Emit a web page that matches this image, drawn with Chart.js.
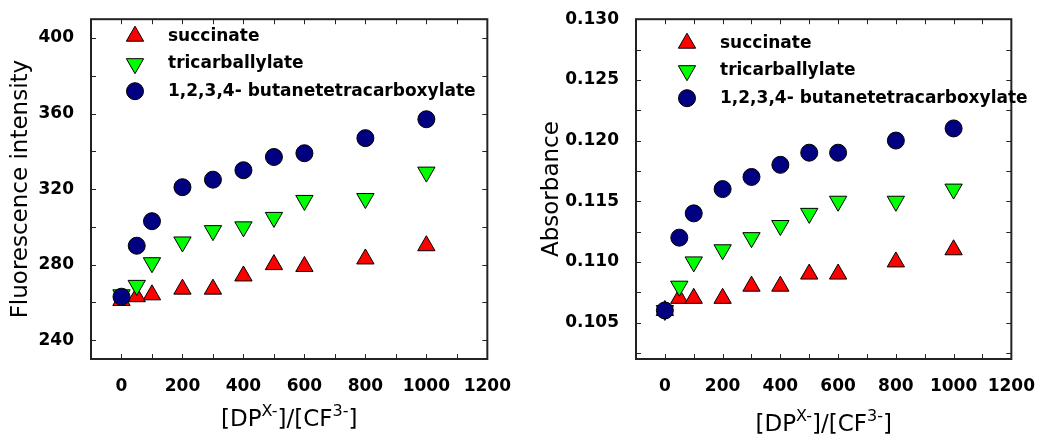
<!DOCTYPE html>
<html>
<head>
<meta charset="utf-8">
<script src="https://cdn.jsdelivr.net/npm/chart.js@4.4.0/dist/chart.umd.min.js"></script>
<style>
  html, body { margin: 0; padding: 0; background: #fff; }
  #wrap { position: relative; width: 1044px; height: 440px; }
  .panel { position: absolute; top: 0; height: 440px; }
</style>
</head>
<body>
<div id="wrap">
  <div class="panel" style="left:0;width:520px"><canvas id="chartFluo" width="520" height="440"></canvas></div>
  <div class="panel" style="left:520px;width:524px"><canvas id="chartAbs" width="524" height="440"></canvas></div>
</div>
<script>
// datos
const ratios = [0, 50, 100, 200, 300, 400, 500, 600, 800, 1000];
const seriesNames = ['succinate', 'tricarballylate', '1,2,3,4- butanetetracarboxylate'];

const fluoSuccinate = [261, 263, 264, 267, 267, 274, 280, 279, 283, 290];
const fluoTricarb   = [264, 269, 281, 292, 298, 300, 305, 314, 315, 329];
const fluoButane    = [263, 290, 303, 321, 325, 330, 337, 339, 347, 357];

const absSuccinate = [0.106, 0.107, 0.107, 0.107, 0.108, 0.108, 0.109, 0.109, 0.110, 0.111];
const absTricarb   = [0.106, 0.108, 0.110, 0.111, 0.112, 0.113, 0.114, 0.115, 0.115, 0.116];
const absButane    = [0.106, 0.112, 0.114, 0.116, 0.117, 0.118, 0.119, 0.119, 0.120, 0.121];

const xTicks    = [0, 200, 400, 600, 800, 1000, 1200];
const fluoTicks = [240, 280, 320, 360, 400];
const absTicks  = [0.105, 0.110, 0.115, 0.120, 0.125, 0.130];

const colores  = ['#ff0000', '#00ff00', '#000080'];
const estilos  = ['triangle', 'triangle', 'circle'];
const rotacion = [0, 180, 0];
const radios   = [10, 10, 8.5];

const TICK_FONT = { family: 'DejaVu Sans', weight: 'bold', size: 17 };

// marco con marcas hacia dentro, leyenda y titulo X con superindices
const marcoPlugin = {
    id: 'marco',
    afterDraw(chart, args, opts) {
        const ctx = chart.ctx;
        const a = chart.chartArea;
        const xs = chart.scales.x, ys = chart.scales.y;
        ctx.save();
        ctx.strokeStyle = '#222';
        ctx.lineWidth = 2;
        ctx.strokeRect(a.left, a.top, a.right - a.left, a.bottom - a.top);

        ctx.lineWidth = 1;
        const L = 5;
        for (let v = xs.min; v <= xs.max + 1e-9; v += opts.xStep) {
            const px = Math.round(xs.getPixelForValue(v)) + 0.5;
            ctx.beginPath();
            ctx.moveTo(px, a.bottom); ctx.lineTo(px, a.bottom - L);
            ctx.moveTo(px, a.top); ctx.lineTo(px, a.top + L);
            ctx.stroke();
        }
        for (let k = 0; ; k++) {
            const v = opts.yStart + k * opts.yStep;
            if (v > ys.max + 1e-9) break;
            const py = Math.round(ys.getPixelForValue(v)) + 0.5;
            ctx.beginPath();
            ctx.moveTo(a.left, py); ctx.lineTo(a.left + L, py);
            ctx.moveTo(a.right, py); ctx.lineTo(a.right - L, py);
            ctx.stroke();
        }

        // leyenda
        ctx.font = 'bold 17px "DejaVu Sans"';
        ctx.textBaseline = 'middle';
        chart.data.datasets.forEach((ds, i) => {
            const mx = a.left + opts.legX;
            const my = a.top + opts.legY + i * opts.legGap;
            ctx.fillStyle = ds.backgroundColor;
            ctx.strokeStyle = '#000';
            ctx.lineWidth = 1;
            dibujarMarca(ctx, ds.pointStyle, ds.pointRotation, ds.pointRadius, mx, my);
            ctx.fillStyle = '#000';
            ctx.textAlign = 'left';
            ctx.fillText(ds.label, mx + 33, my);
        });

        // titulo eje X
        const partes = [['[DP', false], ['X-', true], [']/[CF', false], ['3-', true], [']', false]];
        const big = 'normal 23px "DejaVu Sans"', small = 'normal 16px "DejaVu Sans"';
        let total = 0;
        partes.forEach(p => { ctx.font = p[1] ? small : big; total += ctx.measureText(p[0]).width; });
        let x = (a.left + a.right) / 2 - total / 2;
        const base = opts.titleY;
        ctx.textAlign = 'left';
        ctx.textBaseline = 'alphabetic';
        ctx.fillStyle = '#000';
        partes.forEach(p => {
            ctx.font = p[1] ? small : big;
            ctx.fillText(p[0], x, p[1] ? base - 10 : base);
            x += ctx.measureText(p[0]).width;
        });
        ctx.restore();
    }
};

function dibujarMarca(ctx, estilo, rot, r, x, y) {
    ctx.beginPath();
    if (estilo === 'circle') {
        ctx.arc(x, y, r, 0, Math.PI * 2);
    } else {
        let ang = rot * Math.PI / 180;
        for (let k = 0; k < 3; k++) {
            const px = x + Math.sin(ang) * r, py = y - Math.cos(ang) * r;
            if (k === 0) ctx.moveTo(px, py); else ctx.lineTo(px, py);
            ang += 2 * Math.PI / 3;
        }
        ctx.closePath();
    }
    ctx.fill();
    ctx.stroke();
}

function crearGrafico(id, series, cfg) {
    const datasets = series.map((vals, i) => ({
        label: seriesNames[i],
        data: ratios.map((r, k) => ({ x: r, y: vals[k] })),
        pointStyle: estilos[i],
        pointRotation: rotacion[i],
        pointRadius: radios[i],
        pointHoverRadius: radios[i],
        backgroundColor: colores[i],
        borderColor: '#000',
        borderWidth: 1,
        showLine: false,
        order: 2 - i
    }));

    return new Chart(document.getElementById(id), {
        type: 'scatter',
        data: { datasets: datasets },
        options: {
            responsive: false,
            animation: false,
            layout: { padding: { top: 18, right: cfg.padRight, left: 0, bottom: 0 } },
            plugins: {
                legend: { display: false },
                tooltip: { enabled: false },
                marco: cfg.marco
            },
            scales: {
                x: {
                    type: 'linear',
                    min: -100,
                    max: 1200,
                    grid: { display: false },
                    border: { display: false },
                    afterBuildTicks: s => { s.ticks = xTicks.map(v => ({ value: v })); },
                    afterFit: s => { s.height = 81; },
                    ticks: {
                        padding: 9,
                        color: '#000',
                        font: TICK_FONT,
                        maxRotation: 0,
                        autoSkip: false,
                        callback: v => String(v)
                    }
                },
                y: {
                    type: 'linear',
                    min: cfg.yMin,
                    max: cfg.yMax,
                    grid: { display: false },
                    border: { display: false },
                    afterBuildTicks: s => { s.ticks = cfg.yTicks.map(v => ({ value: v })); },
                    afterFit: s => { s.width = cfg.yWidth; },
                    title: {
                        display: true,
                        text: cfg.yTitle,
                        color: '#000',
                        font: { family: 'DejaVu Sans', size: 23 },
                        padding: { top: cfg.titlePad, bottom: 0 }
                    },
                    ticks: {
                        padding: 9,
                        color: '#000',
                        font: TICK_FONT,
                        autoSkip: false,
                        callback: v => cfg.fmt(v)
                    }
                }
            }
        },
        plugins: [marcoPlugin]
    });
}

crearGrafico('chartFluo', [fluoSuccinate, fluoTricarb, fluoButane], {
    yMin: 230, yMax: 410, yTicks: fluoTicks, yWidth: 91, padRight: 32,
    yTitle: 'Fluorescence intensity', titlePad: 7,
    fmt: v => String(v),
    marco: { xStep: 100, yStart: 240, yStep: 20, legX: 44, legY: 17, legGap: 27.5, titleY: 426 }
});

crearGrafico('chartAbs', [absSuccinate, absTricarb, absButane], {
    yMin: 0.102, yMax: 0.130, yTicks: absTicks, yWidth: 116, padRight: 23,
    yTitle: 'Absorbance', titlePad: 18,
    fmt: v => v.toFixed(3),
    marco: { xStep: 100, yStart: 0.1025, yStep: 0.0025, legX: 51, legY: 24, legGap: 27.5, titleY: 431 }
});
</script>
</body>
</html>
